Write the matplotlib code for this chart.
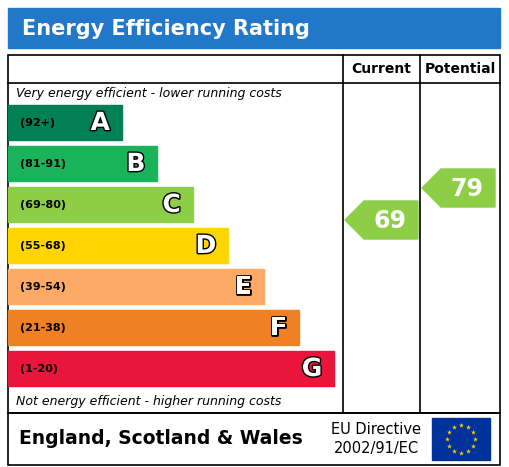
import numpy as np
import matplotlib.pyplot as plt
from matplotlib.patches import Rectangle, Polygon
import matplotlib.patheffects as pe

bands = ['A', 'B', 'C', 'D', 'E', 'F', 'G']
ranges = ['(92+)', '(81-91)', '(69-80)', '(55-68)', '(39-54)', '(21-38)', '(1-20)']
colors = ['#008054', '#19b459', '#8dce46', '#ffd500', '#fcaa65', '#ef8023', '#e9153b']
current = 69
potential = 79
rating_color = '#8dce46'

fig = plt.figure(figsize=(5.09, 4.67), dpi=100)
ax = fig.add_axes([0, 0, 1, 1])
ax.set_xlim(0, 509)
ax.set_ylim(467, 0)
ax.axis('off')

# title bar
ax.add_patch(Rectangle((8, 8), 492, 40, color='#2278c8'))
ax.text(22, 29, 'Energy Efficiency Rating', color='white', fontsize=15,
        fontweight='bold', va='center', ha='left')

# main frame
lw = 1.2
ax.add_patch(Rectangle((8, 55), 492, 358, fill=False, ec='black', lw=lw))
ax.add_patch(Rectangle((8, 413), 492, 52, fill=False, ec='black', lw=lw))
ax.plot([8, 500], [83, 83], color='black', lw=lw)
ax.plot([343, 343], [55, 413], color='black', lw=lw)
ax.plot([420, 420], [55, 413], color='black', lw=lw)
ax.text(381, 69, 'Current', fontsize=10, fontweight='bold', ha='center', va='center')
ax.text(460, 69, 'Potential', fontsize=10, fontweight='bold', ha='center', va='center')

ax.text(16, 94, 'Very energy efficient - lower running costs', fontsize=9,
        style='italic', va='center')
ax.text(16, 401, 'Not energy efficient - higher running costs', fontsize=9,
        style='italic', va='center')

outline = [pe.withStroke(linewidth=2, foreground='black')]
for i, (b, r, c) in enumerate(zip(bands, ranges, colors)):
    top = 105 + i * 41
    right = 122 + i * 35.4
    ax.add_patch(Rectangle((8, top), right - 8, 35, color=c))
    ax.text(20, top + 18, r, fontsize=8, fontweight='bold', va='center',
            color='black')
    ax.text(right - 12, top + 18, b, fontsize=18, fontweight='bold', ha='right',
            va='center', color='white', path_effects=outline)


def arrow(x0, x1, value):
    yc = 440.8 - 3.2 * value
    h = 19
    pts = [(x0, yc), (x0 + h, yc - h), (x1, yc - h), (x1, yc + h), (x0 + h, yc + h)]
    ax.add_patch(Polygon(pts, color=rating_color))
    ax.text(x1 - 28, yc + 1, str(value), fontsize=17, fontweight='bold', ha='center',
            va='center', color='white')


arrow(345, 418, current)
arrow(422, 495, potential)

# footer
ax.text(19, 438, 'England, Scotland & Wales', fontsize=13.5, fontweight='bold',
        va='center')
ax.text(376, 429, 'EU Directive', fontsize=10.5, ha='center', va='center')
ax.text(376, 449, '2002/91/EC', fontsize=10.5, ha='center', va='center')
ax.add_patch(Rectangle((432, 418), 58, 42, color='#003399'))
ang = np.linspace(0, 2 * np.pi, 13)[:-1]
ax.scatter(461 + 14 * np.cos(ang), 439 + 14 * np.sin(ang), marker='*', s=14,
           color='#ffcc00', lw=0)

fig.savefig('out.png', dpi=100)
